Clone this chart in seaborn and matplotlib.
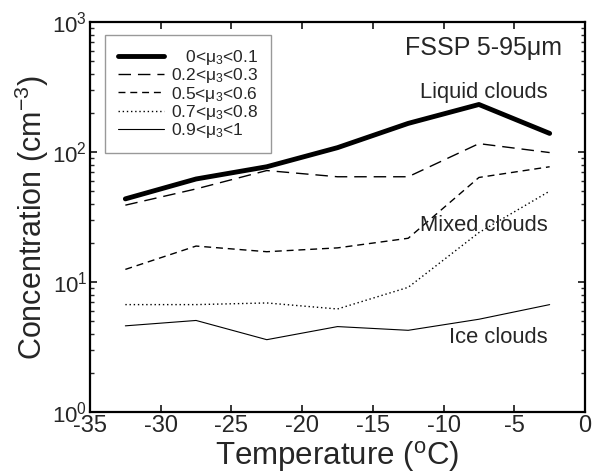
import numpy as np
import pandas as pd
import matplotlib
matplotlib.use("Agg")
import matplotlib.pyplot as plt
import seaborn as sns

# temperature bin centres (deg C)
temperature = [-32.5, -27.5, -22.5, -17.5, -12.5, -7.5, -2.5]

# concentrations (cm^-3)
mu_00_01 = [43.6, 62, 77, 108, 166, 232, 139]
mu_02_03 = [39, 52, 72, 64.5, 64.5, 116, 99]
mu_05_06 = [12.5, 18.9, 17.1, 18.3, 21.7, 63.7, 77]
mu_07_08 = [6.7, 6.7, 6.9, 6.2, 9.1, 24, 50]
mu_09_10 = [4.6, 5.06, 3.6, 4.54, 4.25, 5.17, 6.7]

labels = ["   0<μ$_3$<0.1", "0.2<μ$_3$<0.3", "0.5<μ$_3$<0.6",
          "0.7<μ$_3$<0.8", "0.9<μ$_3$<1"]
series = [mu_00_01, mu_02_03, mu_05_06, mu_07_08, mu_09_10]

sns.set_style("ticks")
plt.rcParams['font.family'] = ['Liberation Sans', 'DejaVu Sans']
plt.rcParams['mathtext.fontset'] = 'custom'
plt.rcParams['mathtext.rm'] = 'Liberation Sans'
plt.rcParams['mathtext.it'] = 'Liberation Sans'
plt.rcParams['mathtext.default'] = 'regular'
plt.rcParams['axes.unicode_minus'] = False

fig = plt.figure(figsize=(5.95, 4.75), dpi=100)
ax = fig.add_axes([90 / 595, 63 / 475, 495 / 595, 390 / 475])

styles = [dict(lw=3.5, ls='-'),
          dict(lw=1.0, ls=(0, (9, 5))),
          dict(lw=1.0, ls=(0, (5, 3.5))),
          dict(lw=1.0, ls=(0, (1, 2))),
          dict(lw=0.8, ls='-')]

for vals, lab, st in zip(series, labels, styles):
    df = pd.DataFrame({"T": temperature, "N": vals})
    sns.lineplot(data=df, x="T", y="N", ax=ax, color='black',
                 linewidth=st['lw'], linestyle=st['ls'], label=lab)

ax.set_yscale('log')
ax.set_xlim(-35, 0)
ax.set_ylim(1, 1000)
ax.set_xticks(np.arange(-35, 1, 5))

ax.tick_params(which='both', direction='in', top=True, right=True, pad=2)
ax.tick_params(axis='x', labelsize=17)
ax.tick_params(axis='y', labelsize=16)
ax.tick_params(which='major', length=5, width=1.3)
ax.tick_params(which='minor', length=3, width=1)
for sp in ax.spines.values():
    sp.set_linewidth(1.6)
    sp.set_color('black')

ax.set_xlabel("Temperature ($^{o}$C)", fontsize=22.5)
ax.xaxis.set_label_coords(0.5, -0.068)
ax.set_ylabel("Concentration (cm$^{-3}$)", fontsize=22)
ax.yaxis.set_label_coords(-0.078, 0.5)

leg = ax.legend(loc='upper left', fontsize=12.5, frameon=True, fancybox=False,
                edgecolor='gray', handlelength=2.65, handletextpad=0.4,
                borderpad=0.75, labelspacing=-0.04,
                bbox_to_anchor=(0.03, 0.967), borderaxespad=0)
leg.get_frame().set_linewidth(1)

ax.text(0.954, 0.933, "FSSP 5-95μm", transform=ax.transAxes, fontsize=18,
        ha='right', va='center')
ax.text(0.925, 0.82, "Liquid clouds", transform=ax.transAxes, fontsize=15.8,
        ha='right', va='center')
ax.text(0.925, 0.479, "Mixed clouds", transform=ax.transAxes, fontsize=15.8,
        ha='right', va='center')
ax.text(0.925, 0.19, "Ice clouds", transform=ax.transAxes, fontsize=15.8,
        ha='right', va='center')

fig.savefig("out.png", dpi=100)
